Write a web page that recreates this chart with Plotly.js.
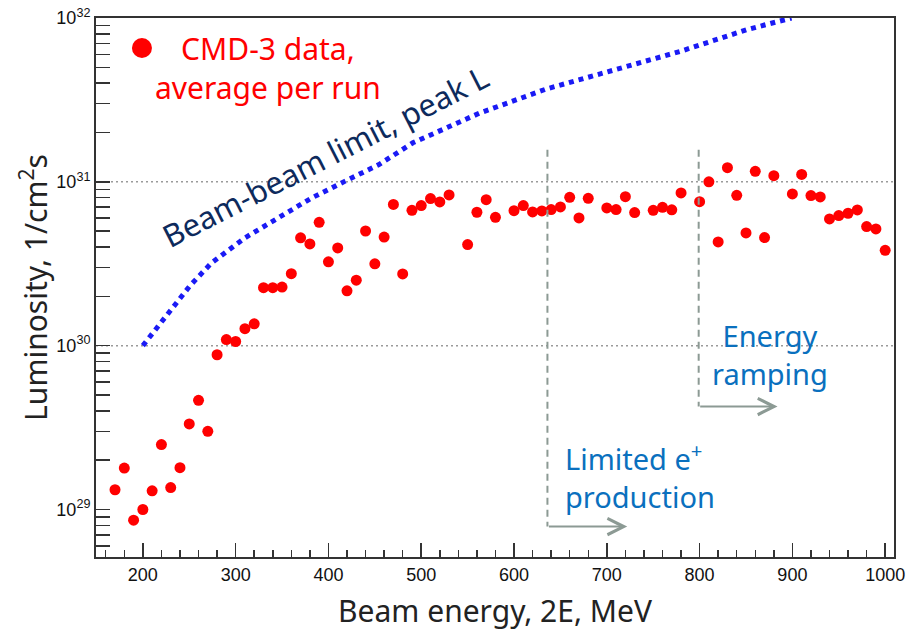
<!DOCTYPE html>
<html><head><meta charset="utf-8">
<script src="https://cdn.plot.ly/plotly-3.0.1.min.js"></script>
<style>html,body{margin:0;padding:0;background:#fff}#chart{width:907px;height:631px}</style>
</head><body><div id="chart"></div>
<script>
// CMD-3 data, average luminosity per run (1/cm^2 s) vs beam energy 2E (MeV)
const beamEnergy = [170,180,190,200,210,220,230,240,250,260,270,280,290,300,310,320,330,340,350,360,
  370,380,390,400,410,420,430,440,450,460,470,480,490,500,510,520,530,550,560,570,580,600,610,620,630,
  640,650,660,670,680,700,710,720,730,750,760,770,780,800,810,820,830,840,850,860,870,880,900,910,920,
  930,940,950,960,970,980,990,1000];
const luminosity = [1.32e29,1.79e29,8.6e28,1.0e29,1.30e29,2.49e29,1.36e29,1.80e29,3.33e29,4.64e29,3.00e29,8.8e29,
  1.09e30,1.06e30,1.27e30,1.36e30,2.26e30,2.26e30,2.28e30,2.75e30,4.55e30,4.18e30,5.66e30,3.25e30,3.95e30,
  2.16e30,2.51e30,5.01e30,3.16e30,4.60e30,7.28e30,2.74e30,6.70e30,7.16e30,7.90e30,7.54e30,8.32e30,4.14e30,
  6.52e30,7.78e30,6.07e30,6.67e30,7.16e30,6.55e30,6.64e30,6.77e30,7.03e30,8.04e30,6.02e30,7.93e30,6.93e30,
  6.77e30,8.12e30,6.49e30,6.70e30,6.99e30,6.75e30,8.56e30,7.57e30,1.00e31,4.30e30,1.22e31,8.27e30,4.88e30,
  1.16e31,4.57e30,1.09e31,8.44e30,1.11e31,8.24e30,8.09e30,5.94e30,6.22e30,6.43e30,6.74e30,5.33e30,5.16e30,3.82e30];

// Beam-beam limit, peak L
const limitEnergy = [200,215,229,251,274,310,346,382,418,454,491,563,635,707,779,851,899];
const limitLuminosity = [1.0e30,1.29e30,1.64e30,2.33e30,3.20e30,4.55e30,6.03e30,7.98e30,1.01e31,1.27e31,
  1.73e31,2.63e31,3.69e31,4.76e31,6.25e31,8.49e31,1.0e32];

// reference levels drawn as dotted lines
const gridLevels = [1e30, 1e31];

// regions: start energy (MeV), arrow end energy, top and bottom luminosity of the marker line
const regionStart = [636, 799];
const regionArrowEnd = [722, 884];
const regionTop = [1.57e31, 1.57e31];
const regionBottom = [7.87e28, 4.25e29];

const xRange = [149.5, 1009.5];
const yRangeLog = [28.71, 32];

// y ticks: every 1..9 of each decade, labels only on the decades
const yTickVals = [];
const yTickText = [];
for (let d = 28; d <= 32; d++) for (let m = 1; m <= 9; m++) {
  yTickVals.push(m * Math.pow(10, d));
  yTickText.push(m === 1 ? '10<sup>' + d + '</sup>' : '');
}

const grey = '#8c9a94';
const traces = [];
const annotations = [];

gridLevels.forEach(v => traces.push({x:xRange, y:[v, v], type:'scatter', mode:'lines', hoverinfo:'skip',
  line:{color:'#9a9a9a', width:1.5, dash:'2px,3px'}}));

traces.push(
  {x:beamEnergy, y:luminosity, type:'scatter', mode:'markers', name:'CMD-3 data, average per run',
   marker:{color:'#ff0000', size:11, line:{width:0}}},
  {x:limitEnergy, y:limitLuminosity, type:'scatter', mode:'lines', name:'Beam-beam limit, peak L',
   line:{color:'#1a1af5', width:5, dash:'dot'}}
);

regionStart.forEach((e,i) => {
  traces.push({x:[e, e], y:[regionTop[i], regionBottom[i]], type:'scatter', mode:'lines', hoverinfo:'skip',
    line:{color:grey, width:2, dash:'7px,5px'}});
  annotations.push({xref:'x', yref:'y', axref:'x', ayref:'y', x:regionArrowEnd[i], y:Math.log10(regionBottom[i]),
    ax:e, ay:Math.log10(regionBottom[i]), text:'', showarrow:true, arrowhead:5, arrowsize:1.6,
    arrowwidth:2, arrowcolor:grey, standoff:0, startstandoff:0});
});

// legend dot
const shapes = [{type:'circle', xref:'paper', yref:'paper', xsizemode:'pixel', ysizemode:'pixel',
  xanchor:0.0576, yanchor:0.9443, x0:-10, x1:10, y0:-10, y1:10, fillcolor:'#ff0000', line:{width:0}}];

const txtFont = 'Noto Sans, DejaVu Sans, sans-serif';
annotations.push(
  {xref:'paper', yref:'paper', x:0.2155, y:0.9072, xanchor:'center', yanchor:'middle', align:'center', showarrow:false,
   text:'CMD-3 data,<br>average per run', font:{family:txtFont, size:30, color:'#ff0000'}},
  {xref:'paper', yref:'paper', x:0.287, y:0.744, xanchor:'center', yanchor:'middle', showarrow:false, textangle:-27,
   text:'Beam-beam limit, peak L', font:{family:txtFont, size:31, color:'#0d2a5c'}},
  {xref:'paper', yref:'paper', x:0.5852, y:0.1503, xanchor:'left', yanchor:'middle', align:'left', showarrow:false,
   text:'Limited e<sup>+</sup><br>production', font:{family:txtFont, size:29, color:'#0a70be'}},
  {xref:'paper', yref:'paper', x:0.8446, y:0.3748, xanchor:'center', yanchor:'middle', align:'center', showarrow:false,
   text:'Energy<br>ramping', font:{family:txtFont, size:29, color:'#0a70be'}}
);

const axisFont = {family:'Liberation Sans, Arial, sans-serif', size:18, color:'#111'};
const layout = {
  width:907, height:631, margin:{l:96, r:13, t:18, b:74},
  paper_bgcolor:'#fff', plot_bgcolor:'#fff', showlegend:false,
  xaxis:{range:xRange, dtick:100, tick0:0, ticks:'inside', ticklen:14, tickwidth:1.5, tickcolor:'#333',
    minor:{dtick:20, ticks:'inside', ticklen:7, tickwidth:1.5, tickcolor:'#333'},
    showline:true, linecolor:'#333', linewidth:2, mirror:true, showgrid:false, zeroline:false,
    tickfont:axisFont,
    title:{text:'Beam energy, 2E, MeV', font:{family:txtFont, size:30, color:'#222'}, standoff:20}},
  yaxis:{type:'log', range:yRangeLog, tickmode:'array', tickvals:yTickVals, ticktext:yTickText,
    ticks:'inside', ticklen:14, tickwidth:1.5,
    tickcolor:'#333', showline:true, linecolor:'#333', linewidth:2, mirror:true, showgrid:false, zeroline:false,
    tickfont:axisFont,
    title:{text:'Luminosity, 1/cm<sup>2</sup>s', font:{family:txtFont, size:30, color:'#222'}, standoff:0}},
  shapes:shapes, annotations:annotations
};
Plotly.newPlot('chart', traces, layout, {staticPlot:true});
</script></body></html>
